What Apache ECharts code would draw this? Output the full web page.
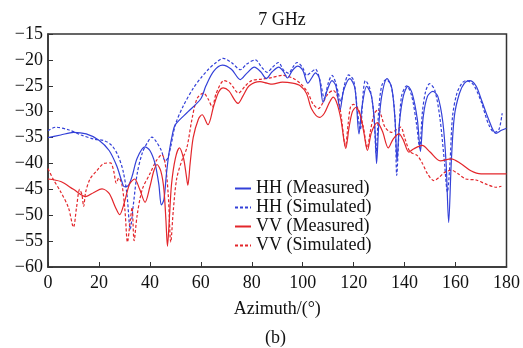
<!DOCTYPE html>
<html>
<head>
<meta charset="utf-8">
<script src="https://cdn.jsdelivr.net/npm/echarts@6/dist/echarts.min.js"></script>
<style>html,body{margin:0;padding:0;background:#fff}#c{width:523px;height:348px}</style>
</head>
<body>
<div id="c"></div>
<script>
const titleText = '7 GHz';
const xName = 'Azimuth/(°)';
const subLabel = '(b)';
const xTicks = [0, 20, 40, 60, 80, 100, 120, 140, 160, 180];
const yTicks = [-60, -55, -50, -45, -40, -35, -30, -25, -20, -15];
const seriesNames = ['HH (Measured)', 'HH (Simulated)', 'VV (Measured)', 'VV (Simulated)'];

const hhMeasured = [[0,-35],[5,-34.5],[10,-34],[15,-34.3],[20,-35.5],[24,-37.5],[27,-40.5],[29,-43.5],[30,-44.5],[31.5,-44.3],[33,-42.5],[35,-39],[38,-36.8],[40,-37.5],[42,-40],[43.5,-44],[44.5,-48],[45.5,-47],[46.5,-42],[47.5,-38],[49,-34],[50,-32.5],[55,-30],[60,-27.5],[62,-25],[65,-22.2],[68.5,-21],[72,-21.8],[75.5,-23.8],[78,-22.6],[81,-21.4],[83.5,-22.3],[85.7,-23.6],[88,-22.3],[90.6,-21.4],[92.5,-22.3],[94,-23.5],[96,-22],[98,-21.2],[100,-22],[102,-24.5],[103.5,-23.5],[105,-22.5],[106.5,-23.5],[108,-28.2],[109.5,-26],[111.5,-24],[113,-25],[114.7,-29.6],[116,-26],[118.5,-23.6],[120.5,-25.5],[122.1,-34.3],[123.3,-29],[125.1,-25.1],[127,-27],[128.3,-33],[129,-40],[129.8,-33],[131,-27],[133.1,-23.6],[135,-25.5],[136.3,-32],[137,-39.5],[138,-32],[139.5,-27],[141.3,-25.1],[143,-26.5],[145,-31.5],[146.2,-37.7],[147.3,-31],[149,-27],[151.1,-26.1],[153,-27],[155,-32],[156.3,-40],[157.3,-51.4],[158.3,-40],[159.5,-31],[161.5,-26.5],[163.5,-24.5],[165.5,-24],[168,-25],[170,-27.5],[173,-31.5],[175.9,-34.2],[178,-33.6],[180,-33.2]];

const hhSimulated = [[0,-33.7],[3,-33],[8,-33.5],[13,-34.5],[18,-35.3],[22,-35.6],[25,-36.5],[27.5,-38.5],[29.5,-41.5],[31,-46],[32.3,-52.7],[33.5,-48],[35,-42],[37,-38],[39,-36],[40.8,-34.9],[42.5,-35.8],[44.5,-37.5],[46,-39.5],[47,-39],[48.3,-36.5],[50,-32.5],[53,-29],[57,-25.5],[60,-23.5],[63,-21.8],[66,-20.5],[68.8,-19.7],[72,-20.5],[75.6,-21.9],[78,-20.8],[81.4,-20],[84,-21.5],[86,-22.4],[88,-21.5],[90.5,-20.5],[92.5,-22],[94.5,-22.6],[96,-21.5],[97.8,-20.5],[100,-21.5],[101.5,-23],[103,-22.5],[105,-21.8],[106.8,-24],[108.5,-27.5],[110,-24.5],[111.5,-23],[113,-24.5],[115,-28],[116.3,-25],[118,-22.9],[120,-24],[121.5,-30],[122.6,-33.5],[123.8,-26],[124.6,-24],[126.5,-25.8],[128,-31],[128.8,-38],[129.8,-30],[131,-25],[132.8,-23.8],[134.7,-25],[136.2,-31],[136.9,-42.3],[137.8,-34],[138.8,-27],[140.8,-25],[142.8,-27],[144.7,-32.5],[145.9,-37],[147,-30],[148.3,-26],[149.8,-24.6],[151.8,-25.8],[153.8,-31],[155.5,-39],[156.8,-45.5],[157.8,-40],[158.8,-31],[160.5,-26.5],[162.5,-24.5],[164.2,-24],[167,-24.8],[170,-28],[173,-32.5],[175.3,-34],[177,-33.5],[178.3,-30.3]];

const vvMeasured = [[0,-43],[5,-43.5],[10,-45],[14.8,-46.4],[18,-45.6],[21.2,-44.9],[24,-45.8],[26.5,-48.5],[28.1,-49.9],[30,-47.5],[32,-44],[34,-43],[36,-45],[38.1,-47.5],[40,-44.5],[41.5,-41.5],[42.8,-40.2],[44.3,-41.5],[45.5,-45],[46.3,-51],[46.9,-56],[47.6,-51],[48.5,-44],[50,-39],[51.6,-37],[53.2,-39],[54.2,-42],[54.9,-44.2],[55.8,-40],[57,-35],[59,-31.5],[60.5,-30.6],[62.8,-32.5],[65,-29],[67,-26.2],[68.8,-25.4],[71,-26],[74.6,-28.4],[76.5,-27],[79,-25],[83.2,-24.2],[86,-24.5],[88,-24.7],[92,-24.3],[96,-24.5],[99,-25],[101.5,-26.5],[103.5,-29.5],[106.5,-31.1],[108.5,-30.3],[110.5,-28.2],[112,-27.2],[113.5,-28.5],[115,-31.5],[116.9,-37.1],[118.2,-33],[119.5,-30],[120.8,-29.2],[122.5,-30.5],[124,-34],[125.4,-37.5],[127,-34],[129.3,-32.1],[131.3,-33.8],[133.6,-37],[135.5,-35.3],[137.8,-34.3],[139.5,-35.5],[141.7,-37.8],[143.5,-37.2],[146.9,-36.5],[150,-37.8],[154,-39.5],[158.3,-39.1],[162,-40],[166,-41.4],[170,-42],[175,-42],[180,-42]];

const vvSimulated = [[0,-41],[2,-43],[5,-45.5],[8,-48.5],[10,-52.3],[11.2,-48.5],[12.4,-45],[13.3,-46],[14,-48.3],[14.8,-45.5],[16.5,-43],[19,-41.5],[22,-40],[24.5,-39.9],[25.8,-41.5],[26.8,-43.8],[27.8,-42.8],[29,-44],[30.2,-49],[31.2,-55.2],[32.3,-51],[33,-48.5],[33.8,-54.9],[35,-50],[37,-45],[40,-42],[42.5,-39.5],[44.7,-38.3],[46,-40],[47.2,-46],[48.2,-55.2],[49.2,-49],[50.5,-43],[52.5,-39.5],[54.5,-37],[56.5,-31.5],[58.5,-27.5],[61,-26.4],[62.8,-27.5],[64.5,-29.1],[66,-26.5],[69.1,-24],[71.5,-24.5],[74.8,-26.4],[77.5,-25],[80,-24],[84,-23.7],[88,-23.4],[92,-23],[96,-23.5],[99,-24.5],[102,-26.3],[104,-28.5],[106.2,-29.4],[108,-28.2],[110,-26.5],[112,-25.9],[113.8,-27.3],[115,-30.5],[116.8,-36.7],[117.8,-32.5],[118.8,-29],[120,-28.6],[121.8,-29.5],[123.8,-33],[125.3,-37],[126.5,-34],[128,-30.5],[129.6,-29.6],[131,-31],[132.2,-32.9],[134.8,-34],[136.8,-33.5],[138.5,-33],[140,-35],[142.1,-37.7],[145,-38.5],[147,-40],[149,-42],[151.5,-43.3],[153.5,-42.7],[155.5,-41.8],[158.3,-41.3],[161,-42],[164,-43],[168,-43.2],[172,-44],[176,-44.6],[178,-44.4]];

const BLUE = '#3340d8';
const RED = '#e3262b';
const FONT = '"Liberation Serif", "DejaVu Serif", serif';
const fmt = v => (v < 0 ? '\u2212' : '') + Math.abs(v);

function mk(name, data, color, dashed) {
  return {
    name: name, type: 'line', data: data, smooth: 0.3,
    symbol: 'none', showSymbol: false,
    lineStyle: { color: color, width: 1.2, type: dashed ? [3, 2] : 'solid' },
    itemStyle: { color: color },
    animation: false, z: dashed ? 2 : 3
  };
}

const chart = echarts.init(document.getElementById('c'), null, { renderer: 'canvas' });
chart.setOption({
  animation: false,
  backgroundColor: '#fff',
  textStyle: { fontFamily: FONT },
  title: {
    text: titleText, left: 277, top: 6, textAlign: 'center',
    textStyle: { fontFamily: FONT, fontSize: 18, fontWeight: 'normal', color: '#111' }
  },
  grid: { left: 48, right: 16, top: 34, bottom: 81, show: true, borderColor: '#333', borderWidth: 1.5, backgroundColor: 'transparent' },
  legend: {
    orient: 'vertical', left: 229, top: 174, itemWidth: 16, itemHeight: 10, itemGap: 0,
    data: seriesNames,
    itemStyle: { opacity: 0 },
    textStyle: { fontFamily: FONT, fontSize: 18, color: '#111', lineHeight: 19 }
  },
  xAxis: {
    type: 'value', min: xTicks[0], max: xTicks[xTicks.length - 1], interval: 20,
    name: xName, nameLocation: 'middle', nameGap: 33,
    nameTextStyle: { fontFamily: FONT, fontSize: 18, color: '#111' },
    axisLine: { show: true, lineStyle: { color: '#333', width: 1.5 } },
    axisTick: { show: true, inside: true, length: 5, lineStyle: { color: '#333' } },
    axisLabel: { fontFamily: FONT, fontSize: 18, color: '#111', margin: 7, formatter: fmt },
    splitLine: { show: false }
  },
  yAxis: {
    type: 'value', min: yTicks[0], max: yTicks[yTicks.length - 1], interval: 5,
    axisLine: { show: true, lineStyle: { color: '#333', width: 1.5 } },
    axisTick: { show: true, inside: true, length: 5, lineStyle: { color: '#333' } },
    axisLabel: { fontFamily: FONT, fontSize: 18, color: '#111', margin: 5, formatter: fmt },
    splitLine: { show: false }
  },
  graphic: [{
    type: 'text', left: 265, top: 329,
    style: { text: subLabel, font: '18px ' + FONT, fill: '#111' }
  }],
  series: [
    mk(seriesNames[0], hhMeasured, BLUE, false),
    mk(seriesNames[1], hhSimulated, BLUE, true),
    mk(seriesNames[2], vvMeasured, RED, false),
    mk(seriesNames[3], vvSimulated, RED, true)
  ]
});
</script>
</body>
</html>
